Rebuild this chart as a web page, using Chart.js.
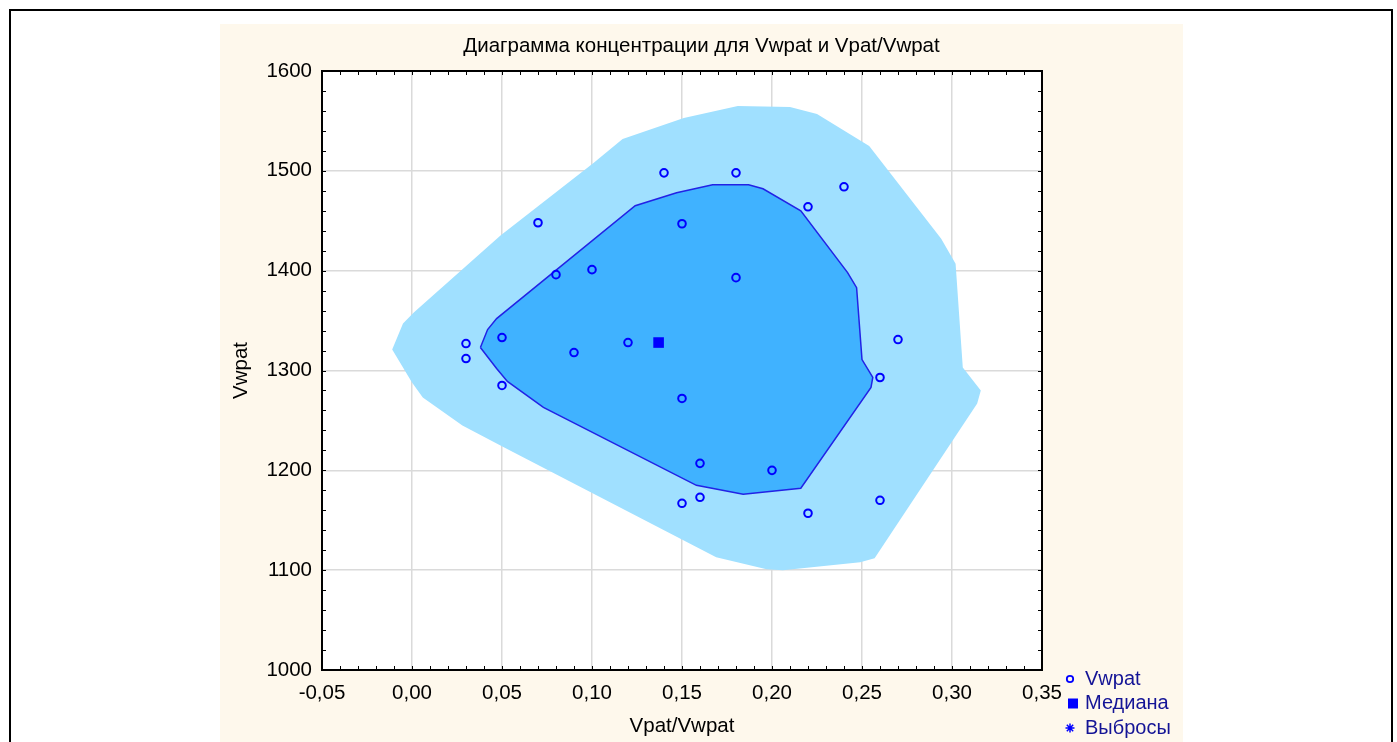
<!DOCTYPE html>
<html lang="ru">
<head>
<meta charset="UTF-8">
<script src="https://cdn.jsdelivr.net/npm/chart.js@4"></script>
<title>Диаграмма концентрации</title>
<style>
  body { margin: 0; background: #fff; width: 1397px; height: 742px; overflow: hidden; position: relative; }
  #cornice { position: absolute; left: 9px; top: 9px; width: 1380px; height: 800px; border: 2px solid #000; }
  #pannello { position: absolute; left: 220px; top: 24px; width: 963px; height: 718px; background: #fef8ec; }
</style>
</head>
<body>
<div id="cornice"></div>
<div id="pannello"><canvas id="grafico1" width="963" height="718"></canvas></div>
<script>
// punti osservati
var puntiX = [0.03, 0.03, 0.05, 0.05, 0.07, 0.08, 0.10, 0.09, 0.12, 0.14, 0.15, 0.15,
              0.15, 0.16, 0.16, 0.18, 0.18, 0.20, 0.22, 0.24, 0.22, 0.26, 0.27, 0.26];
var puntiY = [1327, 1312, 1333, 1285, 1448, 1396, 1401, 1318, 1328, 1498, 1447, 1272,
              1167, 1207, 1173, 1498, 1393, 1200, 1464, 1484, 1157, 1293, 1331, 1170];

// mediana
var medianaX = [0.137];
var medianaY = [1328];

// contorno interno
var internoX = [0.038, 0.042, 0.047, 0.124, 0.147, 0.167, 0.187, 0.195, 0.216, 0.242,
                0.247, 0.250, 0.256, 0.255, 0.216, 0.184, 0.158, 0.073, 0.053, 0.047];
var internoY = [1323, 1341, 1352, 1465, 1478, 1486, 1486, 1482, 1460, 1398,
                1383, 1311, 1293, 1283, 1182, 1176, 1185, 1263, 1289, 1302];

// contorno esterno
var esternoX = [-0.011, -0.005, 0.001, 0.049, 0.101, 0.117, 0.151, 0.181, 0.210, 0.225,
                0.254, 0.294, 0.302, 0.306, 0.316, 0.314, 0.257, 0.249, 0.206, 0.197,
                0.169, 0.051, 0.028, 0.006, 0.000];
var esternoY = [1321, 1347, 1358, 1435, 1508, 1532, 1553, 1565, 1564, 1557,
                1525, 1432, 1407, 1303, 1280, 1267, 1112, 1108, 1100, 1101,
                1113, 1223, 1245, 1273, 1288];

var etichetteLegenda = ['Vwpat', 'Медиана', 'Выбросы'];

function coppie(xs, ys, chiudi) {
    var out = xs.map(function(x, i) { return {x: x, y: ys[i]}; });
    if (chiudi) out.push({x: xs[0], y: ys[0]});
    return out;
}

var BLU = '#0000ff';
var FONT = '"Liberation Sans", Arial, sans-serif';

// sfondo bianco, cornice, tacche minori e legenda
var cornicePlugin = {
    id: 'cornice',
    beforeDraw: function(chart) {
        var a = chart.chartArea, ctx = chart.ctx;
        ctx.save();
        ctx.fillStyle = '#ffffff';
        ctx.fillRect(a.left, a.top, a.right - a.left, a.bottom - a.top);
        ctx.restore();
    },
    afterDraw: function(chart) {
        var a = chart.chartArea, ctx = chart.ctx;
        var sx = chart.scales.x, sy = chart.scales.y;
        ctx.save();
        ctx.strokeStyle = '#000';
        ctx.lineWidth = 1;
        ctx.beginPath();
        for (var i = 0; i <= 40; i++) {
            var px = Math.round(sx.getPixelForValue(-0.05 + i * 0.01)) + 0.5;
            ctx.moveTo(px, a.bottom); ctx.lineTo(px, a.bottom - 4);
            ctx.moveTo(px, a.top); ctx.lineTo(px, a.top + 4);
        }
        for (var j = 0; j <= 30; j++) {
            var py = Math.round(sy.getPixelForValue(1000 + j * 20)) + 0.5;
            ctx.moveTo(a.left, py); ctx.lineTo(a.left + 4, py);
            ctx.moveTo(a.right, py); ctx.lineTo(a.right - 4, py);
        }
        ctx.stroke();
        ctx.lineWidth = 2;
        ctx.strokeRect(a.left, a.top, a.right - a.left, a.bottom - a.top);

        // legenda
        var lx = a.right + 28, ly = a.bottom + 9;
        ctx.font = '20px ' + FONT;
        ctx.textBaseline = 'middle';
        ctx.textAlign = 'left';
        etichetteLegenda.forEach(function(t, k) {
            var y = ly + k * 24.5;
            ctx.strokeStyle = BLU; ctx.fillStyle = BLU; ctx.lineWidth = 1.8;
            if (k === 0) {
                ctx.beginPath(); ctx.arc(lx, y, 3.2, 0, 2 * Math.PI); ctx.stroke();
            } else if (k === 1) {
                ctx.fillRect(lx - 2, y - 5, 10, 10);
            } else {
                ctx.lineWidth = 1.5;
                ctx.beginPath();
                for (var s = 0; s < 4; s++) {
                    var ang = s * Math.PI / 4;
                    ctx.moveTo(lx - 4.5 * Math.cos(ang), y - 4.5 * Math.sin(ang));
                    ctx.lineTo(lx + 4.5 * Math.cos(ang), y + 4.5 * Math.sin(ang));
                }
                ctx.stroke();
            }
            ctx.fillStyle = '#141496';
            ctx.fillText(t, lx + 15, y);
        });
        ctx.restore();
    }
};

var data = {
    datasets: [
        {
            label: 'esterno',
            data: coppie(esternoX, esternoY, true),
            showLine: true,
            fill: 'shape',
            backgroundColor: '#a0e0ff',
            borderColor: '#a0e0ff',
            borderWidth: 0,
            pointRadius: 0,
            tension: 0,
            order: 4
        },
        {
            label: 'interno',
            data: coppie(internoX, internoY, true),
            showLine: true,
            fill: 'shape',
            backgroundColor: '#40b2ff',
            borderColor: '#2222e6',
            borderWidth: 1.5,
            pointRadius: 0,
            tension: 0,
            order: 3
        },
        {
            label: 'Vwpat',
            data: coppie(puntiX, puntiY, false),
            showLine: false,
            pointStyle: 'circle',
            pointRadius: 3.8,
            pointBorderWidth: 2,
            pointBorderColor: BLU,
            pointBackgroundColor: 'rgba(0,0,0,0)',
            order: 2
        },
        {
            label: 'Медиана',
            data: coppie(medianaX, medianaY, false),
            showLine: false,
            pointStyle: 'rect',
            pointRadius: 7.5,
            pointBorderWidth: 0,
            pointBackgroundColor: BLU,
            pointBorderColor: BLU,
            order: 1
        }
    ]
};

var fontAssi = { family: FONT, size: 20.5 };

var options = {
    responsive: false,
    animation: false,
    layout: { padding: 0 },
    plugins: {
        legend: { display: false },
        tooltip: { enabled: false },
        title: {
            display: true,
            text: 'Диаграмма концентрации для Vwpat и Vpat/Vwpat',
            color: '#000',
            font: { family: FONT, size: 20.5, weight: 'normal' },
            padding: { top: 10.5, bottom: 11.9 }
        }
    },
    scales: {
        x: {
            type: 'linear',
            min: -0.05,
            max: 0.35,
            afterFit: function(s) { s.height = 72; },
            ticks: {
                stepSize: 0.05,
                padding: 11,
                color: '#000',
                font: fontAssi,
                maxRotation: 0,
                callback: function(v) {
                    if (Math.abs(v) < 1e-9) v = 0;
                    return v.toFixed(2).replace('.', ',');
                }
            },
            grid: { color: '#dadada', lineWidth: 1.5, drawTicks: false },
            border: { color: '#000', width: 2 },
            title: { display: true, text: 'Vpat/Vwpat', color: '#000', font: fontAssi, padding: { top: 0, bottom: 3.2 } }
        },
        y: {
            type: 'linear',
            min: 1000,
            max: 1600,
            afterFit: function(s) { s.width = 102; },
            ticks: {
                stepSize: 100,
                padding: 10,
                color: '#000',
                font: fontAssi,
                callback: function(v) { return String(v); }
            },
            grid: { color: '#dadada', lineWidth: 1.5, drawTicks: false },
            border: { color: '#000', width: 2 },
            title: { display: true, text: 'Vwpat', color: '#000', font: fontAssi, padding: { top: 8.7, bottom: 0 } }
        },
        // asse vuoto a destra: riserva lo spazio della legenda
        destra: {
            type: 'linear',
            position: 'right',
            afterFit: function(s) { s.width = 141; },
            ticks: { display: false },
            grid: { display: false, drawTicks: false },
            border: { display: false }
        }
    }
};

var config = {
    type: 'line',
    data: data,
    options: options,
    plugins: [cornicePlugin]
};

var myChart = new Chart('grafico1', config);
</script>
</body>
</html>
